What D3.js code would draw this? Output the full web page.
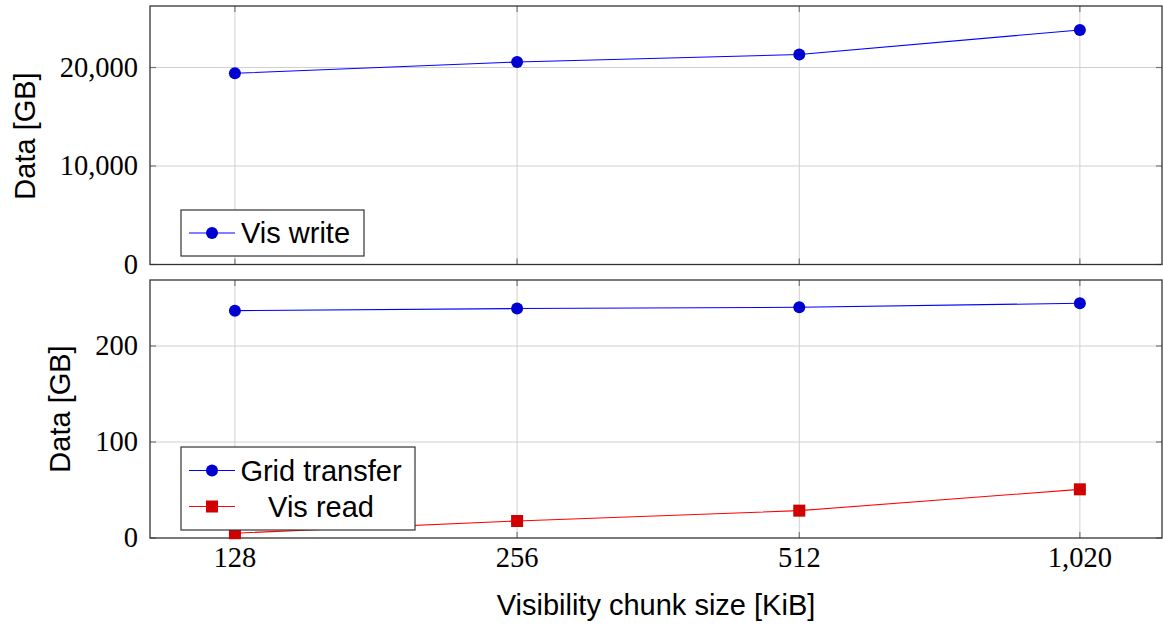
<!DOCTYPE html>
<html><head><meta charset="utf-8">
<script src="https://cdn.jsdelivr.net/npm/d3@7"></script>
<style>body{margin:0;background:#fff}</style>
</head><body>
<svg id="c" width="1163" height="626"></svg>
<script>
const chunkSizes = [128, 256, 512, 1020];
const xTickLabels = ["128", "256", "512", "1,020"];
const visWrite = [19410, 20560, 21320, 23810];
const gridTransfer = [236.8, 239, 240.3, 244.5];
const visRead = [5, 17.7, 28.5, 50.7];
const topTicks = [0, 10000, 20000];
const botTicks = [0, 100, 200];

const svg = d3.select("#c");
const L = 150, R = 1162;
const x = d3.scaleLog().base(2).domain([103.9, 1248]).range([L, R]);
const yTop = d3.scaleLinear().domain([0, 26244]).range([264.5, 6]);
const yBot = d3.scaleLinear().domain([0, 268.75]).range([538, 280]);
const serif = "'Liberation Serif', 'Times New Roman', serif";
const sans = "'Liberation Sans', Arial, Helvetica, sans-serif";
const tickFont = 28.5, labFont = 29;

function panel(y, yt, fmt, showX) {
  const [y0, y1] = y.range();
  const g = svg.append("g");
  g.selectAll(".vg").data(chunkSizes).join("line")
    .attr("x1", d => x(d)).attr("x2", d => x(d)).attr("y1", y1).attr("y2", y0)
    .attr("stroke", "#d0d0d0").attr("stroke-width", 1);
  g.selectAll(".hg").data(yt.filter(t => t > 0)).join("line")
    .attr("x1", L).attr("x2", R).attr("y1", d => y(d)).attr("y2", d => y(d))
    .attr("stroke", "#d0d0d0").attr("stroke-width", 1);
  const tl = 6;
  chunkSizes.forEach(d => {
    g.append("line").attr("x1", x(d)).attr("x2", x(d)).attr("y1", y0).attr("y2", y0 - tl).attr("stroke", "#777").attr("stroke-width", 1.2);
    g.append("line").attr("x1", x(d)).attr("x2", x(d)).attr("y1", y1).attr("y2", y1 + tl).attr("stroke", "#777").attr("stroke-width", 1.2);
  });
  yt.forEach(d => {
    g.append("line").attr("x1", L).attr("x2", L + tl).attr("y1", y(d)).attr("y2", y(d)).attr("stroke", "#777").attr("stroke-width", 1.2);
    g.append("line").attr("x1", R).attr("x2", R - tl).attr("y1", y(d)).attr("y2", y(d)).attr("stroke", "#777").attr("stroke-width", 1.2);
  });
  g.append("rect").attr("x", L).attr("y", y1).attr("width", R - L).attr("height", y0 - y1)
    .attr("fill", "none").attr("stroke", "#333").attr("stroke-width", 1.3);
  g.selectAll(".yl").data(yt).join("text")
    .attr("x", L - 12).attr("y", d => y(d)).attr("dy", "0.33em")
    .attr("text-anchor", "end").attr("font-family", serif).attr("font-size", tickFont)
    .text(d => fmt(d));
  if (showX) {
    g.selectAll(".xl").data(chunkSizes).join("text")
      .attr("x", d => x(d)).attr("y", y0 + 29)
      .attr("text-anchor", "middle").attr("font-family", serif).attr("font-size", tickFont)
      .text((d, i) => xTickLabels[i]);
  }
  return g;
}

const fmtC = d3.format(",");
const gT = panel(yTop, topTicks, fmtC, false);
const gB = panel(yBot, botTicks, fmtC, true);

function series(g, y, vals, lineColor, fill, shape) {
  const line = d3.line().x((d, i) => x(chunkSizes[i])).y(d => y(d));
  g.append("path").datum(vals).attr("d", line).attr("fill", "none").attr("stroke", lineColor).attr("stroke-width", 1.1);
  vals.forEach((v, i) => marker(g, x(chunkSizes[i]), y(v), fill, shape));
}
function marker(g, cx, cy, fill, shape) {
  if (shape === "circle") g.append("circle").attr("cx", cx).attr("cy", cy).attr("r", 6).attr("fill", fill);
  else g.append("rect").attr("x", cx - 6).attr("y", cy - 6).attr("width", 12).attr("height", 12).attr("fill", fill);
}
series(gT, yTop, visWrite, "#0000ff", "#0000d0", "circle");
series(gB, yBot, gridTransfer, "#0000ff", "#0000d0", "circle");
series(gB, yBot, visRead, "#ff0000", "#d00000", "square");

function legend(bx, by, bw, bh, items) {
  const g = svg.append("g");
  g.append("rect").attr("x", bx).attr("y", by).attr("width", bw).attr("height", bh)
    .attr("fill", "#fff").attr("stroke", "#333").attr("stroke-width", 1.2);
  items.forEach(it => {
    g.append("line").attr("x1", 189).attr("x2", 235).attr("y1", it.y).attr("y2", it.y).attr("stroke", it.line).attr("stroke-width", 1.1);
    marker(g, 212, it.y, it.fill, it.shape);
    g.append("text").attr("x", it.cx).attr("y", it.y).attr("dy", "0.35em").attr("text-anchor", "middle")
      .attr("font-family", sans).attr("font-size", labFont).text(it.label);
  });
}
legend(181, 210, 183, 46, [{y: 233, line: "#0000ff", fill: "#0000d0", shape: "circle", label: "Vis write", cx: 295.5}]);
legend(181, 447, 234, 83, [
  {y: 470.5, line: "#0000ff", fill: "#0000d0", shape: "circle", label: "Grid transfer", cx: 321},
  {y: 506.5, line: "#ff0000", fill: "#d00000", shape: "square", label: "Vis read", cx: 321}
]);

svg.append("text").attr("transform", "translate(25,136) rotate(-90)").attr("dy", "0.35em")
  .attr("text-anchor", "middle").attr("font-family", sans).attr("font-size", labFont).text("Data [GB]");
svg.append("text").attr("transform", "translate(60,409) rotate(-90)").attr("dy", "0.35em")
  .attr("text-anchor", "middle").attr("font-family", sans).attr("font-size", labFont).text("Data [GB]");
svg.append("text").attr("x", 656).attr("y", 605).attr("dy", "0.35em")
  .attr("text-anchor", "middle").attr("font-family", sans).attr("font-size", labFont).text("Visibility chunk size [KiB]");
</script>
</body></html>
